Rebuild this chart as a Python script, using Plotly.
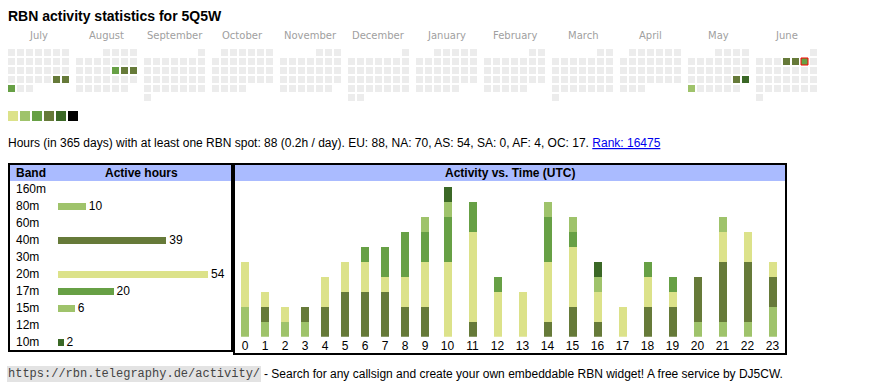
import datetime as dt
import plotly.graph_objects as go

W, H = 870, 390

# ---------------- data ----------------
callsign = "5Q5W"
start_year, start_month = 2024, 7
month_names = ["July", "August", "September", "October", "November", "December",
               "January", "February", "March", "April", "May", "June"]
active_dates = ["2024-07-27", "2024-07-28", "2024-07-29",
                "2024-08-16", "2024-08-17", "2024-08-18",
                "2025-05-24", "2025-05-25", "2025-05-26",
                "2025-06-05", "2025-06-06", "2025-06-07"]
active_levels = [4, 4, 3, 3, 4, 4, 4, 5, 2, 4, 4, 3]
today = "2025-06-07"
level_colors = ["#dce28a", "#9fc36b", "#67a045", "#667a39", "#3b6826", "#000000"]
empty_color = "#ececec"

hours_total = 88
hours_per_day = 0.2
cont_eu, cont_na, cont_as, cont_sa, cont_af, cont_oc = 88, 70, 54, 0, 4, 17
rank = 16475

bands = ["160m", "80m", "60m", "40m", "30m", "20m", "17m", "15m", "12m", "10m"]
band_hours = [0, 10, 0, 39, 0, 54, 20, 6, 0, 2]
band_colors = ["#3b6826", "#9fc36b", "#dce28a", "#667a39", "#67a045",
               "#dce28a", "#67a045", "#9fc36b", "#667a39", "#3b6826"]

hours = list(range(24))
act_160m = [0] * 24
act_80m = [2, 1, 1, 1, 0, 0, 0, 0, 0, 0, 0, 0, 0, 0, 0, 0, 0, 0, 0, 0, 1, 1, 1, 2]
act_60m = [0] * 24
act_40m = [0, 1, 0, 1, 2, 3, 3, 3, 2, 2, 0, 1, 0, 0, 1, 2, 1, 0, 2, 2, 3, 4, 4, 2]
act_30m = [0] * 24
act_20m = [3, 1, 1, 0, 2, 2, 2, 1, 2, 3, 5, 6, 3, 3, 4, 4, 2, 2, 2, 1, 0, 2, 2, 1]
act_17m = [0, 0, 0, 0, 0, 0, 1, 2, 3, 2, 3, 2, 1, 0, 3, 1, 0, 0, 1, 1, 0, 0, 0, 0]
act_15m = [0, 0, 0, 0, 0, 0, 0, 0, 0, 1, 1, 0, 0, 0, 1, 1, 1, 0, 0, 0, 0, 1, 0, 0]
act_12m = [0] * 24
act_10m = [0, 0, 0, 0, 0, 0, 0, 0, 0, 0, 1, 0, 0, 0, 0, 0, 1, 0, 0, 0, 0, 0, 0, 0]
activity = [act_160m, act_80m, act_60m, act_40m, act_30m,
            act_20m, act_17m, act_15m, act_12m, act_10m]

# ---------------- helpers ----------------
SANS = "Arial, Liberation Sans, sans-serif"


def fx(p):
    return p / W


def fy(p):
    return 1 - p / H


fig = go.Figure()

# ---------------- calendar ----------------
PITCH = 9.0
X0, Y0 = 11.5, 52.5
BLOCK = 68 / PITCH
level_of = {d: l for d, l in zip(active_dates, active_levels)}

cx, cy, cc = [], [], []
tx = ty = None
month_x = []
for m in range(12):
    y = start_year + (start_month - 1 + m) // 12
    mo = (start_month - 1 + m) % 12 + 1
    first = dt.date(y, mo, 1)
    nxt = dt.date(y + (mo == 12), mo % 12 + 1, 1)
    off = first.weekday()
    month_x.append(m * BLOCK + 3)
    d = first
    while d < nxt:
        col = d.weekday()
        row = (d.day - 1 + off) // 7
        xx = m * BLOCK + col
        key = d.isoformat()
        cx.append(xx)
        cy.append(row)
        cc.append(level_colors[level_of[key] - 1] if key in level_of else empty_color)
        if key == today:
            tx, ty = xx, row
        d += dt.timedelta(days=1)

fig.add_trace(go.Scatter(x=cx, y=cy, mode="markers", xaxis="x", yaxis="y",
                         marker=dict(symbol="square", size=7, color=cc, line=dict(width=0)),
                         hoverinfo="skip", showlegend=False))
fig.add_trace(go.Scatter(x=[tx], y=[ty], mode="markers", xaxis="x", yaxis="y",
                         marker=dict(symbol="square", size=7,
                                     color=level_colors[level_of[today] - 1],
                                     line=dict(width=1, color="#ff0000")),
                         hoverinfo="skip", showlegend=False))
# colour scale legend
lx = [(13 - X0) / PITCH + i * 12 / PITCH for i in range(len(level_colors))]
ly = [(116 - Y0) / PITCH] * len(level_colors)
fig.add_trace(go.Scatter(x=lx, y=ly, mode="markers", xaxis="x", yaxis="y",
                         marker=dict(symbol="square", size=10, color=level_colors, line=dict(width=0)),
                         hoverinfo="skip", showlegend=False))

annotations = []
for name, mx in zip(month_names, month_x):
    annotations.append(dict(x=mx, y=(35 - Y0) / PITCH, xref="x", yref="y", text=name,
                            xanchor="center", showarrow=False,
                            font=dict(family="DejaVu Sans", size=10, color="#a0a0a0")))

# ---------------- band table ----------------
fig.add_trace(go.Bar(y=bands, x=band_hours, orientation="h", xaxis="x2", yaxis="y2",
                     marker=dict(color=band_colors, line=dict(width=0)), width=0.43,
                     text=[str(v) if v else "" for v in band_hours], textposition="outside",
                     constraintext="none",
                     textfont=dict(family=SANS, size=12, color="#000"), cliponaxis=False,
                     hoverinfo="skip", showlegend=False))
for b in bands:
    annotations.append(dict(x=fx(16), y=b, xref="paper", yref="y2", text=b, xanchor="left",
                            showarrow=False, borderpad=0, borderwidth=0,
                            font=dict(family=SANS, size=12, color="#000")))

# ---------------- activity vs time ----------------
col_w = [15 + 5 * len(str(h)) for h in hours]
hx = []
acc = 0
for w in col_w:
    hx.append(acc + w / 2)
    acc += w
for b, vals, col in zip(bands, activity, band_colors):
    fig.add_trace(go.Bar(x=hx, y=vals, xaxis="x3", yaxis="y3", width=8, name=b,
                         marker=dict(color=col, line=dict(width=0)),
                         hoverinfo="skip", showlegend=False))

# ---------------- texts ----------------
annotations.append(dict(x=fx(8), y=fy(16.5), xref="paper", yref="paper", xanchor="left",
                        yanchor="middle", showarrow=False, borderpad=0, borderwidth=0,
                        text=f"<b>RBN activity statistics for {callsign}</b>",
                        font=dict(family=SANS, size=14, color="#000")))
info = (f"Hours (in 365 days) with at least one RBN spot: {hours_total} ({hours_per_day}h / day). "
        f"EU: {cont_eu}, NA: {cont_na}, AS: {cont_as}, SA: {cont_sa}, AF: {cont_af}, OC: {cont_oc}. "
        f"<span style='color:#0000ee'><u>Rank: {rank}</u></span>")
annotations.append(dict(x=fx(8), y=fy(142.5), xref="paper", yref="paper", xanchor="left",
                        yanchor="middle", showarrow=False, borderpad=0, borderwidth=0, text=info,
                        font=dict(family=SANS, size=12, color="#000")))
annotations.append(dict(x=fx(16), y=fy(173.3), xref="paper", yref="paper", xanchor="left",
                        yanchor="middle", showarrow=False, borderpad=0, borderwidth=0,
                        text="<b>Band</b>", font=dict(family=SANS, size=12, color="#000")))
annotations.append(dict(x=fx(141.7), y=fy(173.3), xref="paper", yref="paper", xanchor="center",
                        yanchor="middle", showarrow=False, borderpad=0, borderwidth=0,
                        text="<b>Active hours</b>", font=dict(family=SANS, size=12, color="#000")))
annotations.append(dict(x=fx(510), y=fy(173.3), xref="paper", yref="paper", xanchor="center",
                        yanchor="middle", showarrow=False, borderpad=0, borderwidth=0,
                        text="<b>Activity vs. Time (UTC)</b>", font=dict(family=SANS, size=12, color="#000")))
annotations.append(dict(x=fx(7), y=fy(374), xref="paper", yref="paper", xanchor="left",
                        yanchor="middle", showarrow=False, borderpad=1, borderwidth=0,
                        bgcolor="#e3e3e3", text="https://rbn.telegraphy.de/activity/",
                        font=dict(family="Liberation Mono, Courier New, monospace", size=12, color="#444")))
annotations.append(dict(x=fx(264), y=fy(374), xref="paper", yref="paper", xanchor="left",
                        yanchor="middle", showarrow=False, borderpad=0, borderwidth=0,
                        text="- Search for any callsign and create your own embeddable RBN widget! A free service by DJ5CW.",
                        font=dict(family=SANS, size=12, color="#000")))

# ---------------- shapes ----------------
shapes = [
    dict(type="rect", xref="paper", yref="paper", x0=fx(10), x1=fx(231), y0=fy(165), y1=fy(181),
         fillcolor="#aabbff", line=dict(width=0), layer="below"),
    dict(type="rect", xref="paper", yref="paper", x0=fx(235), x1=fx(785), y0=fy(165), y1=fy(181),
         fillcolor="#aabbff", line=dict(width=0), layer="below"),
    dict(type="rect", xref="paper", yref="paper", x0=fx(9), x1=fx(232), y0=fy(164), y1=fy(351),
         line=dict(width=2, color="#000")),
    dict(type="rect", xref="paper", yref="paper", x0=fx(234), x1=fx(786), y0=fy(164), y1=fy(354),
         line=dict(width=2, color="#000")),
]

hidden = dict(showgrid=False, zeroline=False, showticklabels=False, ticks="", showline=False, fixedrange=True)

fig.update_layout(
    width=W, height=H, margin=dict(l=0, r=0, t=0, b=0),
    paper_bgcolor="#ffffff", plot_bgcolor="rgba(0,0,0,0)",
    barmode="stack", bargap=0, showlegend=False,
    xaxis=dict(domain=[0, 1], range=[(0 - X0) / PITCH, (W - X0) / PITCH], **hidden),
    yaxis=dict(domain=[0, 1], range=[(H - Y0) / PITCH, (0 - Y0) / PITCH], **hidden),
    xaxis2=dict(domain=[fx(10), fx(231)], range=[-(58 - 10) / (150 / 54), (231 - 58) / (150 / 54)],
                anchor="y2", **hidden),
    yaxis2=dict(domain=[fy(350.8), fy(180.8)], type="category", categoryorder="array",
                categoryarray=bands[::-1], range=[-0.5, len(bands) - 0.5], anchor="x2", **hidden),
    xaxis3=dict(domain=[fx(235), fx(785)], range=[0, sum(col_w)], anchor="y3",
                showgrid=False, zeroline=False, showline=False, ticks="", fixedrange=True,
                tickmode="array", tickvals=hx, ticktext=[str(h) for h in hours],
                tickfont=dict(family=SANS, size=12, color="#000")),
    yaxis3=dict(domain=[fy(336.7), fy(181)], range=[0, (336.7 - 181) / 15], anchor="x3", **hidden),
    annotations=annotations, shapes=shapes,
)

fig.write_html("out.html", config={"displayModeBar": False, "staticPlot": True},
               post_script="document.body.style.margin='0';document.body.style.overflow='hidden';")
